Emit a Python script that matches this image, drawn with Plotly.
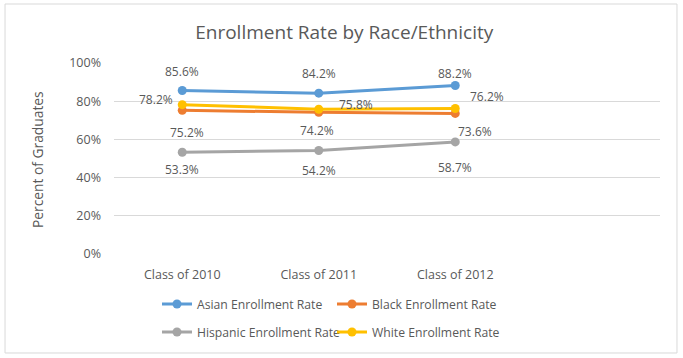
import plotly.graph_objects as go

categories = ["Class of 2010", "Class of 2011", "Class of 2012"]
asian = [85.6, 84.2, 88.2]
black = [75.2, 74.2, 73.6]
hispanic = [53.3, 54.2, 58.7]
white = [78.2, 75.8, 76.2]
y_ticks = [0, 20, 40, 60, 80, 100]
y_tick_labels = ["0%", "20%", "40%", "60%", "80%", "100%"]

series = [
    ("Asian Enrollment Rate", asian, "#5B9BD5", "legend"),
    ("Black Enrollment Rate", black, "#ED7D31", "legend"),
    ("Hispanic Enrollment Rate", hispanic, "#A5A5A5", "legend2"),
    ("White Enrollment Rate", white, "#FFC000", "legend2"),
]
# label offsets (px) per series, style only
label_offsets = {
    "Asian Enrollment Rate": [(0, 19), (0, 20), (0, 12)],
    "Black Enrollment Rate": [(5, -22), (-2, -18), (20, -18)],
    "Hispanic Enrollment Rate": [(0, -17), (0, -20), (0, -26)],
    "White Enrollment Rate": [(-26, 5), (37, 5), (32, 12)],
}

TXT = "#595959"
FONT = "Open Sans"
xs = list(range(len(categories)))

fig = go.Figure()
for name, vals, color, leg in series:
    fig.add_trace(go.Scatter(
        x=xs, y=vals, name=name, mode="lines+markers",
        line=dict(color=color, width=3),
        marker=dict(color=color, size=9),
        legend=leg,
    ))
    for i, v in enumerate(vals):
        dx, dy = label_offsets[name][i]
        fig.add_annotation(x=xs[i], y=v, xref="x", yref="y", text=f"{v:.1f}%",
                           showarrow=False, xshift=dx, yshift=dy,
                           font=dict(family=FONT, size=12, color=TXT))

fig.add_annotation(text="Percent of Graduates", textangle=-90, xref="paper", yref="paper",
                   x=-0.141, y=0.492, showarrow=False, xanchor="center", yanchor="middle",
                   font=dict(family=FONT, size=13.8, color=TXT))

fig.add_shape(type="rect", xref="paper", yref="paper", x0=-0.1996, x1=1.0311,
              y0=-0.5183, y1=1.3089, line=dict(color="#D9D9D9", width=1), layer="below")

legend_common = dict(orientation="h", xref="container", yref="container",
                     x=157 / 683, xanchor="left", yanchor="middle",
                     entrywidth=130, entrywidthmode="pixels", traceorder="normal",
                     font=dict(family=FONT, size=12.2, color=TXT), bgcolor="rgba(0,0,0,0)")

fig.update_layout(
    width=683, height=358,
    margin=dict(l=114, r=23, t=63, b=104, autoexpand=False),
    paper_bgcolor="white", plot_bgcolor="white",
    title=dict(text="Enrollment Rate by Race/Ethnicity", x=0.504, xanchor="center",
               y=1 - 32 / 358, yanchor="middle",
               font=dict(family=FONT, size=19, color=TXT)),
    xaxis=dict(range=[-0.5, 3.5], tickvals=xs, ticktext=categories, showgrid=False,
               zeroline=False, showline=False, ticks="", ticklabelstandoff=11,
               tickfont=dict(family=FONT, size=12.5, color=TXT)),
    yaxis=dict(range=[0, 100], tickvals=y_ticks, ticktext=y_tick_labels,
               showgrid=True, gridcolor="#D9D9D9", gridwidth=1, zeroline=False,
               showline=False, ticks="", ticklabelstandoff=12,
               tickfont=dict(family=FONT, size=12.5, color=TXT)),
    legend=dict(y=1 - 304 / 358, **legend_common),
    legend2=dict(y=1 - 332 / 358, **legend_common),
    showlegend=True,
)

fig.write_html("out.html", config={"displayModeBar": False},
               post_script="document.body.style.margin='0';")
